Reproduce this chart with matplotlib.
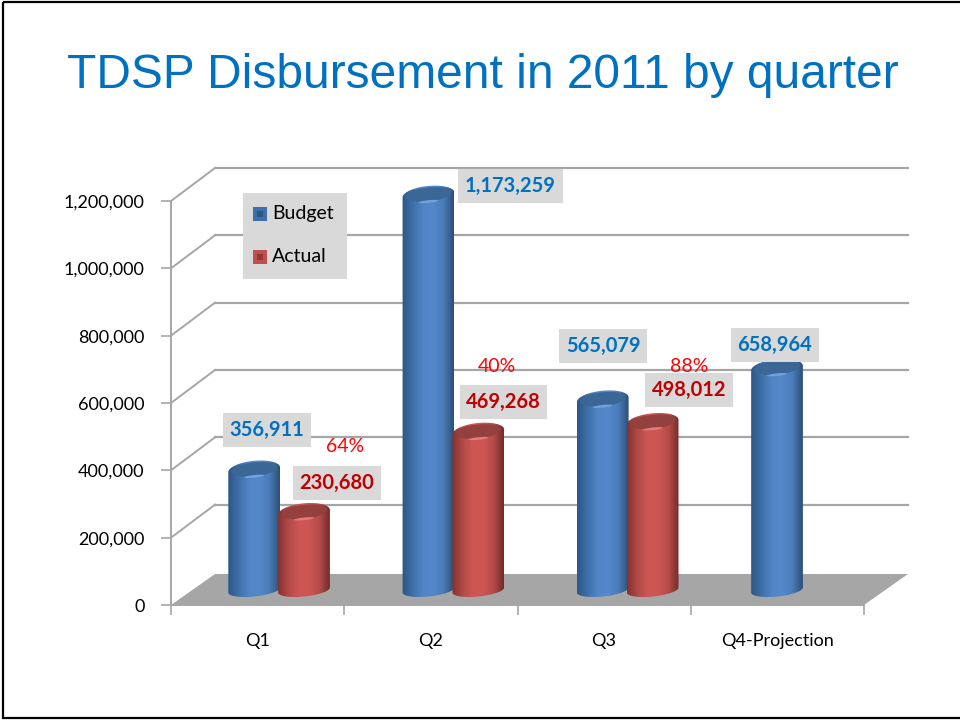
import numpy as np
import matplotlib
matplotlib.use('Agg')
import matplotlib.pyplot as plt
from matplotlib.colors import LinearSegmentedColormap
from matplotlib.patches import Polygon, Rectangle

plt.rcParams['font.family'] = ['Lato', 'DejaVu Sans']

# Chart values
quarters = ['Q1', 'Q2', 'Q3', 'Q4-Projection']
budget = [356911, 1173259, 565079, 658964]
actual = [230680, 469268, 498012]
percent_labels = ['64%', '40%', '88%']
y_ticks = [0, 200000, 400000, 600000, 800000, 1000000, 1200000]

W, H = 960, 721
fig = plt.figure(figsize=(W / 100, H / 100), dpi=100, facecolor='white')

# Overlay in pixel coordinates for the slide frame, title and the text boxes
over = fig.add_axes([0, 0, 1, 1], zorder=5)
over.set_xlim(0, W)
over.set_ylim(H, 0)
over.axis('off')
over.patch.set_alpha(0)

# Plot area: x in categories, y in value, the depth part sits past the axis ends
LEFT, RIGHT, BOTTOM, TOP = 171, 908, 605, 168
CAT_PX = 173.25
VAL_PX = 404 / 1200000
ax = fig.add_axes([LEFT / W, 1 - BOTTOM / H, (RIGHT - LEFT) / W, (BOTTOM - TOP) / H])
xlim = (0, (RIGHT - LEFT) / CAT_PX)
ylim = (0, (BOTTOM - TOP) / VAL_PX)
ax.patch.set_alpha(0)


def dx(px):
    return px / CAT_PX


def dy(px):
    return px / VAL_PX


DEPTH_X, DEPTH_Y = dx(44), dy(33)
grid_color = '#a6a6a6'

# Floor
ax.add_patch(Polygon([(0, 0), (DEPTH_X, dy(31)), (4 + DEPTH_X, dy(31)), (4, 0)],
                     facecolor='#a6a6a6', edgecolor='none', zorder=1))

# Back wall lines and the diagonals on the side wall
for v in y_ticks[1:]:
    ax.plot([0, DEPTH_X], [v, v + DEPTH_Y], color=grid_color, lw=1.4, zorder=1, clip_on=False)
    ax.plot([DEPTH_X, 4 + DEPTH_X], [v + DEPTH_Y, v + DEPTH_Y], color=grid_color, lw=1.6, zorder=1, clip_on=False)

blue_map = LinearSegmentedColormap.from_list('b', ['#2c5786', '#3f6fa8', '#5085c6', '#5488ca', '#4a7cb9', '#2c5077'])
red_map = LinearSegmentedColormap.from_list('r', ['#86302e', '#b04a48', '#cd5653', '#ce5654', '#b54c4a', '#742b29'])
gradient = np.linspace(0, 1, 128).reshape(1, -1)


def arc(cx, cy, a, b, t0, t1, n=40):
    # points of a slightly tilted ellipse, a and b are in pixels
    t = np.radians(np.linspace(t0, t1, n))
    tilt = np.radians(6)
    px = a * np.cos(t) * np.cos(tilt) - b * np.sin(t) * np.sin(tilt)
    py = a * np.cos(t) * np.sin(tilt) + b * np.sin(t) * np.cos(tilt)
    return np.column_stack([cx + dx(px), cy + dy(py)])


def cylinder(center, value, cmap, top_color, rim_color):
    base = dy(15)
    top = base + value
    half = dx(26)
    body = np.vstack([arc(center, top, 26, 9, 0, 180), arc(center, base, 26, 6.5, 180, 360)])
    poly = Polygon(body, transform=ax.transData, facecolor='none', edgecolor='none')
    ax.add_patch(poly)
    im = ax.imshow(gradient, cmap=cmap, aspect='auto', zorder=3,
                   extent=(center - half, center + half, 0, top + dy(12)))
    im.set_clip_path(poly)
    ax.add_patch(Polygon(arc(center, top + dy(0.5), 23, 7, 0, 360), facecolor=top_color, edgecolor='none', zorder=3))
    ax.add_patch(Polygon(arc(center, top - dy(6.5), 10, 1.3, 0, 360), facecolor=rim_color, edgecolor='none', zorder=3))


# Cylinders, the bars sit a little off the tick centres
STEP = 1.006
for i, v in enumerate(budget):
    cylinder(0.48 + STEP * i, v, blue_map, '#3b6797', '#6fa3dc')
for i, v in enumerate(actual):
    cylinder(0.768 + STEP * i, v, red_map, '#93403e', '#e57c78')

ax.set_xlim(*xlim)
ax.set_ylim(*ylim)

# Axes
for side in ['top', 'right']:
    ax.spines[side].set_visible(False)
for side in ['left', 'bottom']:
    ax.spines[side].set_color(grid_color)
    ax.spines[side].set_linewidth(1.4)
ax.spines['left'].set_bounds(0, 1200000)
ax.spines['bottom'].set_bounds(0, 4)
ax.set_yticks(y_ticks)
ax.set_yticklabels([f'{v:,}' for v in y_ticks], fontsize=13)
ax.set_xticks(range(5))
ax.set_xticklabels([])
ax.set_xticks([i + 0.5 for i in range(4)], minor=True)
ax.set_xticklabels(quarters, minor=True, fontsize=13)
ax.tick_params(axis='y', length=7, width=1.2, color=grid_color, pad=12)
ax.tick_params(axis='x', which='major', length=7, width=1.2, color=grid_color)
ax.tick_params(axis='x', which='minor', length=0, pad=20)

# Frame and title
over.add_patch(Rectangle((3, 2), W + 10, 716, facecolor='none', edgecolor='black', lw=1.6))
over.text(483, 76, 'TDSP Disbursement in 2011 by quarter', family='Liberation Sans',
          fontsize=34.5, color='#0070c0', ha='center', va='center')


def value_box(x0, x1, y0, y1, text, color):
    over.add_patch(Rectangle((x0, y0), x1 - x0, y1 - y0, facecolor='#d9d9d9', edgecolor='none'))
    over.text((x0 + x1) / 2, (y0 + y1) / 2, text, color=color, fontsize=14.5, fontweight='bold',
              ha='center', va='center')


blue_text, red_text = '#0070c0', '#c00000'
value_box(223, 311, 413, 447, f'{budget[0]:,}', blue_text)
value_box(293, 381, 466, 500, f'{actual[0]:,}', red_text)
value_box(458, 563, 169, 203, f'{budget[1]:,}', blue_text)
value_box(460, 547, 385, 419, f'{actual[1]:,}', red_text)
value_box(559, 647, 329, 363, f'{budget[2]:,}', blue_text)
value_box(645, 733, 373, 407, f'{actual[2]:,}', red_text)
value_box(731, 819, 328, 362, f'{budget[3]:,}', blue_text)

for (x, y), label in zip([(345, 447), (497, 367), (689, 367)], percent_labels):
    over.text(x, y, label, color='#ff0000', fontsize=14, ha='center', va='center')

# Legend
over.add_patch(Rectangle((243, 193), 104, 86, facecolor='#d9d9d9', edgecolor='none'))
for y, label, c_out, c_in in [(214, 'Budget', '#3f6fa8', '#2c5786'), (257, 'Actual', '#c0504d', '#8f3a38')]:
    over.add_patch(Rectangle((253, y - 7), 14, 14, facecolor=c_out, edgecolor='none'))
    over.add_patch(Rectangle((257, y - 3), 6, 6, facecolor=c_in, edgecolor='none'))
    over.text(272, y, label, fontsize=14, color='black', ha='left', va='center')

fig.savefig('out.png', dpi=100, facecolor='white')
